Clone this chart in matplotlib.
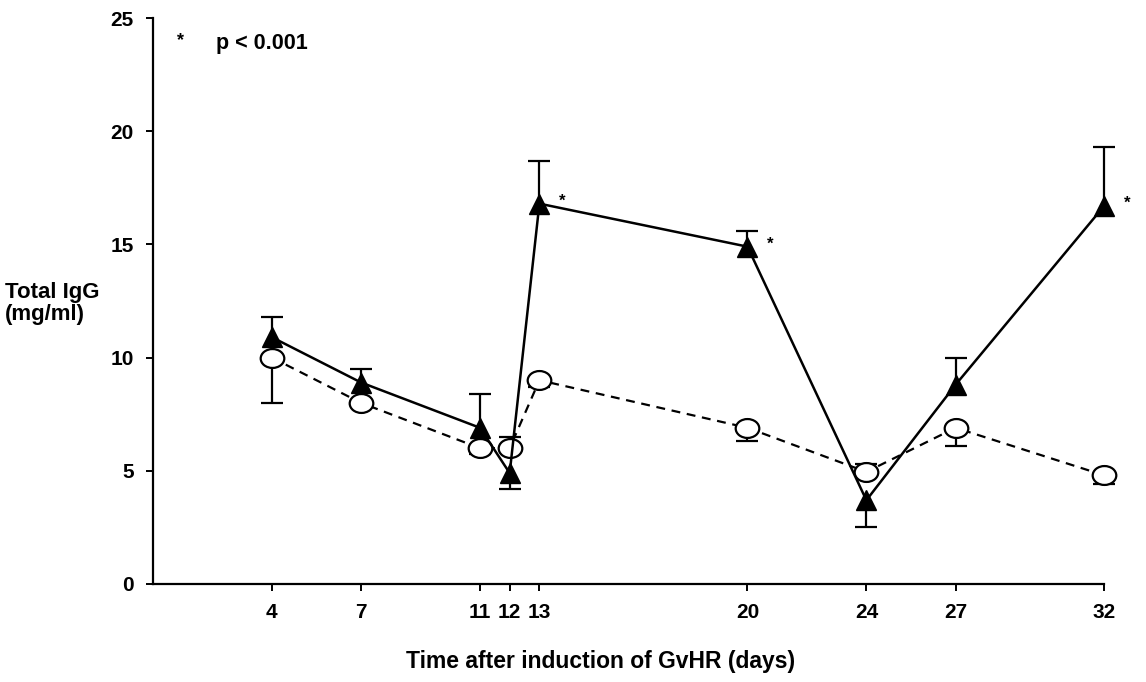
import numpy as np
import matplotlib
matplotlib.use("Agg")
import matplotlib.pyplot as plt
from matplotlib.path import Path
from matplotlib.transforms import Affine2D

plt.rcParams['font.family'] = ['Liberation Sans', 'DejaVu Sans']
plt.rcParams['font.weight'] = 'bold'

# days after induction of GvHR
days = [4, 7, 11, 12, 13, 20, 24, 27, 32]

# GvHR group (filled triangles)
gvhr = [10.9, 8.9, 6.9, 4.9, 16.8, 14.9, 3.7, 8.8, 16.7]
gvhr_err_up = [0.9, 0.6, 1.5, 0.0, 1.9, 0.7, 0.0, 1.2, 2.6]
gvhr_err_down = [0.0, 0.0, 0.0, 0.7, 0.0, 0.0, 1.2, 0.0, 0.0]

# control group (open circles)
ctrl = [10.0, 8.0, 6.0, 6.0, 9.0, 6.9, 4.95, 6.9, 4.8]
ctrl_err_up = [0.0, 0.0, 0.0, 0.5, 0.0, 0.0, 0.35, 0.0, 0.0]
ctrl_err_down = [2.0, 0.0, 0.25, 0.0, 0.3, 0.6, 0.0, 0.8, 0.4]

# days marked significant
sig_days = [13, 20, 32]


def one_sided(x, y, err, sign, z):
    # only draw the bars that exist, so no stray caps sit on the markers
    x = np.asarray(x, float)
    y = np.asarray(y, float)
    err = np.asarray(err, float)
    keep = err > 0
    lo = err[keep] if sign < 0 else np.zeros(keep.sum())
    hi = err[keep] if sign > 0 else np.zeros(keep.sum())
    _, caps, bars = ax.errorbar(x[keep], y[keep], yerr=[lo, hi], fmt='none',
                                ecolor='black', elinewidth=1.6, capsize=8,
                                capthick=1.6, zorder=z)
    # drop the caps at the marker end
    for c in caps:
        yd = c.get_ydata()
        if np.allclose(yd, y[keep]):
            c.set_visible(False)
    for item in list(caps) + list(bars):
        item.set_clip_on(False)


fig = plt.figure(figsize=(11.46, 6.82), dpi=100)
ax = fig.add_axes([0.1335, 0.1437, 0.83, 0.8299])

# slightly flattened circle, like the original
oval = Path.unit_circle().transformed(Affine2D().scale(1.0, 0.8))

ax.plot(days, ctrl, color='black', linestyle=(0, (4, 3)), linewidth=1.6,
        marker=oval, markersize=17, markerfacecolor='white',
        markeredgecolor='black', markeredgewidth=1.6, zorder=3, clip_on=False)
one_sided(days, ctrl, ctrl_err_up, 1, 2)
one_sided(days, ctrl, ctrl_err_down, -1, 2)

ax.plot(days, gvhr, color='black', linestyle='-', linewidth=1.8,
        marker='^', markersize=15, markerfacecolor='black',
        markeredgecolor='black', zorder=4, clip_on=False)
one_sided(days, gvhr, gvhr_err_up, 1, 2)
one_sided(days, gvhr, gvhr_err_down, -1, 2)

for d in sig_days:
    i = days.index(d)
    ax.annotate('*', (d, gvhr[i]), xytext=(14, 2), textcoords='offset points',
                fontsize=12, ha='left', va='center', annotation_clip=False)

ax.set_xlim(0, 32)
ax.set_ylim(0, 25)
ax.set_xticks(days)
ax.set_xticklabels([str(d) for d in days])
ax.set_yticks([0, 5, 10, 15, 20, 25])

for s in ['top', 'right']:
    ax.spines[s].set_visible(False)
for s in ['left', 'bottom']:
    ax.spines[s].set_linewidth(1.6)
ax.tick_params(direction='out', length=5, width=1.4, labelsize=15, pad=9)

ax.set_xlabel('Time after induction of GvHR (days)', fontsize=16.5,
              fontweight='bold', labelpad=20, x=0.471)
fig.text(0.004, 0.555, 'Total IgG\n(mg/ml)', fontsize=16, fontweight='bold',
         ha='left', va='center', linespacing=1.05)

ax.text(0.029, 0.96, '*', transform=ax.transAxes, fontsize=13, ha='center', va='center')
ax.text(0.066, 0.955, 'p < 0.001', transform=ax.transAxes, fontsize=15.5,
        fontweight='bold', ha='left', va='center')

fig.savefig('out.png', dpi=100)
